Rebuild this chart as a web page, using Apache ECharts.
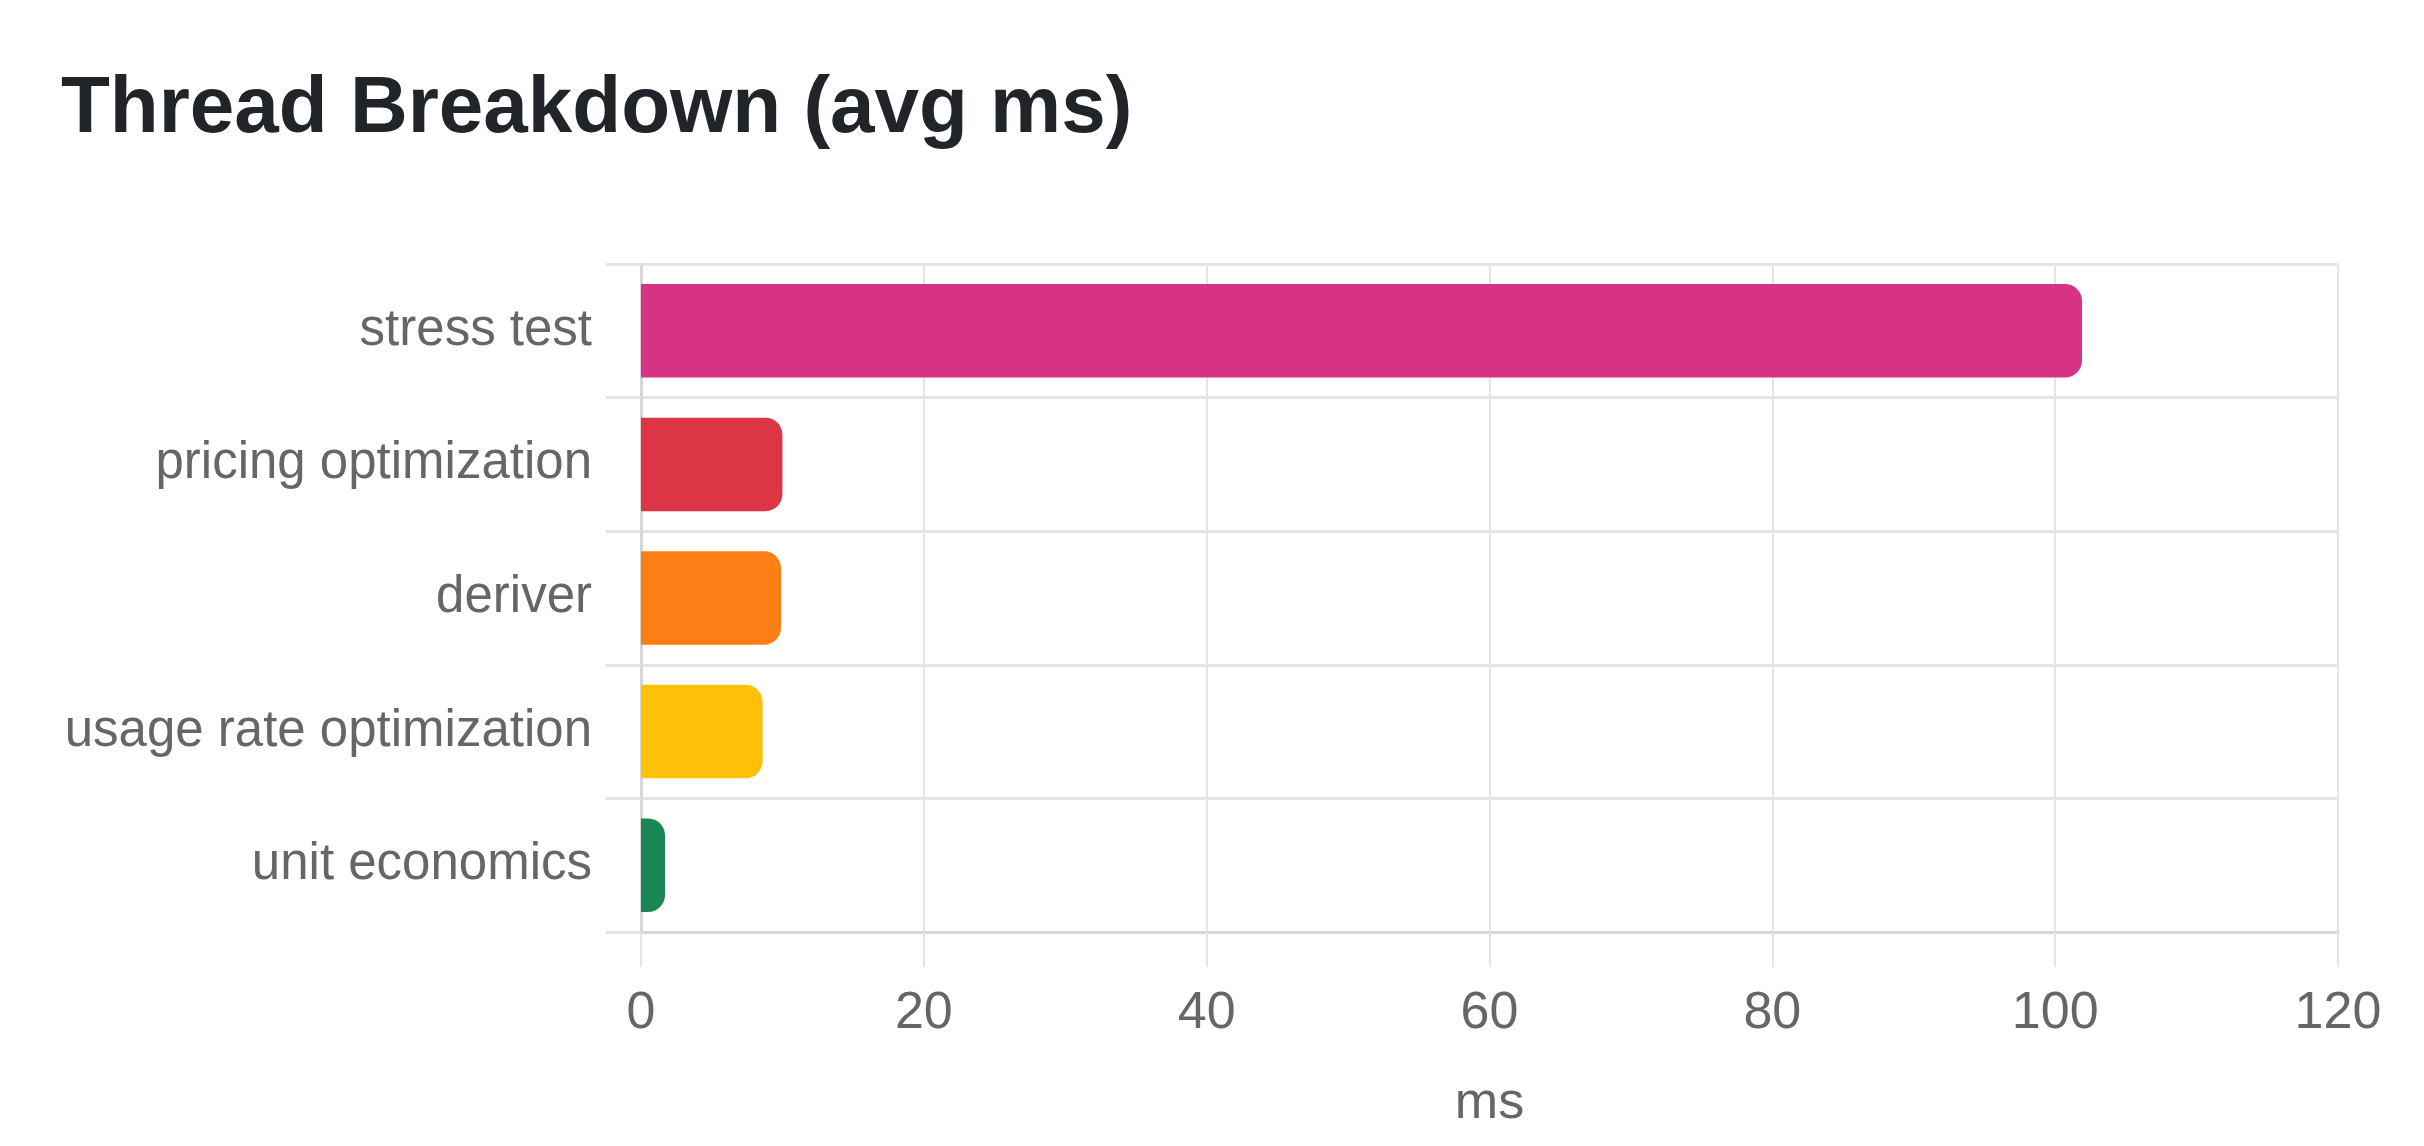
<!DOCTYPE html>
<html>
<head>
<meta charset="utf-8">
<title>Thread Breakdown</title>
<script src="https://cdn.jsdelivr.net/npm/echarts@6/dist/echarts.min.js"></script>
<style>
  html, body {
    margin: 0;
    padding: 0;
    background: #ffffff;
  }
  #chart {
    width: 2424px;
    height: 1146px;
  }
</style>
</head>
<body>
<div id="chart"></div>
<script>
// categories top to bottom
var threads = ["stress test", "pricing optimization", "deriver", "usage rate optimization", "unit economics"];
var avgMs = [101.9, 10.0, 9.9, 8.6, 1.7];
var barColors = ["#d63384", "#dc3545", "#fd7e14", "#ffc107", "#198754"];
var msTicks = [0, 20, 40, 60, 80, 100, 120];

var gridColor = "#e4e4e4";
var labelColor = "#666666";
var fontName = "'Liberation Sans', Arial, Helvetica, sans-serif";

var chart = echarts.init(document.getElementById("chart"), null, { renderer: "canvas" });

var option = {
  animation: false,
  backgroundColor: "#ffffff",
  title: {
    text: "Thread Breakdown (avg ms)",
    left: 56,
    top: 65,
    textStyle: {
      fontFamily: fontName,
      fontSize: 80,
      fontWeight: "bold",
      color: "#212529",
    },
  },
  grid: {
    left: 641,
    right: 86,
    top: 264,
    bottom: 214,
    containLabel: false,
  },
  xAxis: {
    type: "value",
    min: msTicks[0],
    max: msTicks[msTicks.length - 1],
    interval: 20,
    name: "ms",
    nameLocation: "middle",
    nameGap: 146,
    nameTextStyle: {
      fontFamily: fontName,
      fontSize: 52,
      color: labelColor,
    },
    axisLine: { show: true, lineStyle: { color: "#d6d6d6", width: 3 } },
    axisTick: { show: true, length: 35, lineStyle: { color: gridColor, width: 2 } },
    axisLabel: {
      margin: 56,
      fontFamily: fontName,
      fontSize: 52,
      color: labelColor,
    },
    splitLine: { show: true, lineStyle: { color: gridColor, width: 2 } },
  },
  yAxis: {
    type: "category",
    data: threads,
    inverse: true,
    axisLine: { show: true, lineStyle: { color: "#d6d6d6", width: 3 } },
    axisTick: { show: true, length: 35, lineStyle: { color: gridColor, width: 3 } },
    axisLabel: {
      margin: 49,
      fontFamily: fontName,
      fontSize: 51,
      color: labelColor,
    },
    splitLine: { show: true, lineStyle: { color: gridColor, width: 3 } },
  },
  series: [
    {
      type: "bar",
      data: avgMs.map(function (v, i) {
        return { value: v, itemStyle: { color: barColors[i] } };
      }),
      barCategoryGap: "30%",
      itemStyle: { borderRadius: [0, 17, 17, 0] },
    },
  ],
};

chart.setOption(option);
</script>
</body>
</html>
